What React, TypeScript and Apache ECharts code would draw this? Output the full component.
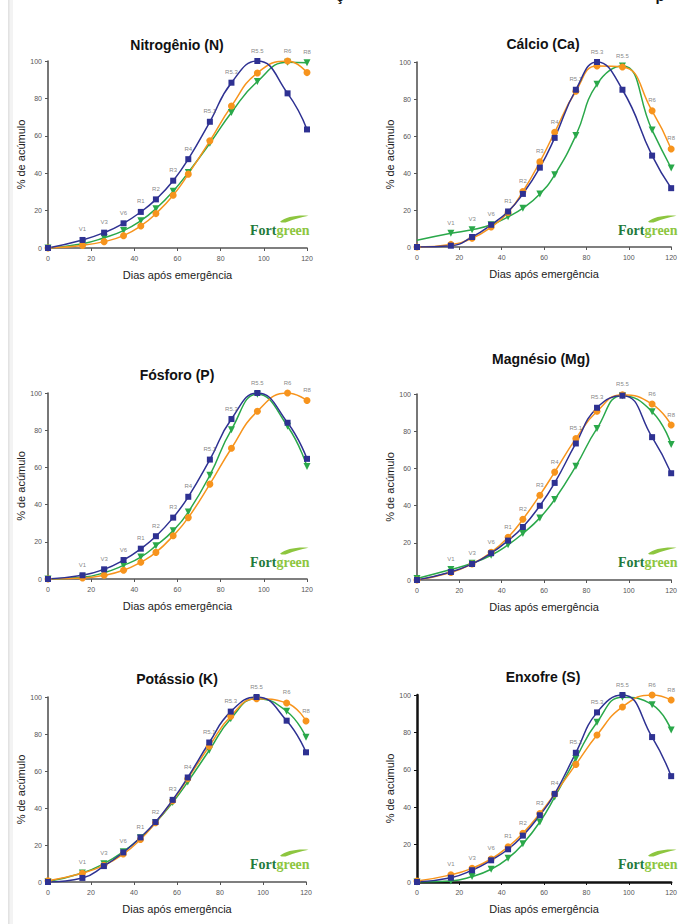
import React, { useEffect, useRef } from "react";
import * as echarts from "echarts";

// Days after emergence (x) and phenological stages
const DAYS = [0, 16, 26, 35, 43, 50, 58, 65, 75, 85, 97, 111, 120];
const STAGES = ["V1", "V3", "V6", "R1", "R2", "R3", "R4", "R5.1", "R5.3", "R5.5", "R6", "R8"];
const X_TICKS = [0, 20, 40, 60, 80, 100, 120];
const Y_TICKS = [0, 20, 40, 60, 80, 100];

// Nitrogênio
const N_BLUE = [0, 4.3, 8.2, 13.2, 19.3, 26, 36, 47.5, 67.5, 88.4, 100, 82.7, 63.4];
const N_ORANGE = [0, 1.4, 3.4, 6.6, 11.8, 18.4, 28.2, 39.5, 57.3, 75.9, 93.6, 100, 93.8];
const N_GREEN = [0, 2.3, 5.5, 9.3, 14.6, 21, 30.4, 40.4, 56, 72.5, 89, 99.3, 99.1];
// Cálcio
const CA_BLUE = [0, 0.7, 5.4, 12, 19.2, 28.7, 42.9, 59, 85, 100, 85, 49.4, 31.8];
const CA_ORANGE = [0, 1.4, 4.7, 10.8, 18.7, 30, 46, 62, 84.2, 97.8, 97.3, 73.6, 53];
const CA_GREEN = [3.6, 7.4, 9.3, 12, 16.3, 21, 28.7, 39, 60.3, 88, 97.8, 63.2, 42.7];
// Fósforo
const P_BLUE = [0, 2, 5.2, 10.2, 16.3, 23, 33, 44.2, 64.2, 86, 100, 84, 64.6];
const P_ORANGE = [0, 0.5, 2, 4.7, 9, 14.3, 23.3, 33, 51, 70.3, 90.2, 100, 96];
const P_GREEN = [0, 0.9, 3.4, 7.3, 11.8, 17.9, 26, 36, 55.8, 80.3, 99.3, 82.1, 60.5];
// Magnésio
const MG_BLUE = [0, 4.3, 8.6, 14.4, 21.2, 28.5, 39.9, 52.2, 73.4, 92.6, 99.1, 76.8, 57.4];
const MG_ORANGE = [0, 4, 8.6, 14.9, 23, 32.7, 45.6, 58, 76, 90.7, 99.6, 94.6, 83.3];
const MG_GREEN = [0.8, 5.6, 9, 13.3, 18.9, 25, 33.4, 43.3, 61.2, 81.5, 99.1, 90.5, 72.9];
// Potássio
const K_BLUE = [0, 2.2, 8.6, 16, 24.1, 32.4, 44.4, 56.5, 75.4, 92.1, 100, 87.2, 70.1];
const K_ORANGE = [0.7, 4.7, 9, 15.1, 23, 32, 43.9, 55.8, 73.4, 89.6, 99.1, 96.8, 87];
const K_GREEN = [0.3, 4.9, 9.9, 16.4, 23.9, 32, 43, 54.1, 71.2, 88.3, 99.1, 92.3, 78.2];
// Enxofre
const S_BLUE = [0, 2.3, 6.3, 11.6, 17.5, 24.8, 35.7, 47.1, 69.1, 90.7, 100, 77.5, 56.6];
const S_ORANGE = [0.5, 3.8, 7.3, 12.3, 18.8, 26.1, 36.6, 47.1, 62.9, 78.6, 93.6, 100, 97.3];
const S_GREEN = [0, 0.5, 2.9, 6.8, 12.7, 20.4, 32.1, 45.4, 66.1, 85.4, 98.8, 94.8, 81.3];

const TITLES = ["Nitrogênio (N)", "Cálcio (Ca)", "Fósforo (P)", "Magnésio (Mg)", "Potássio (K)", "Enxofre (S)"];
const PANEL_DATA = [
  { blue: N_BLUE, orange: N_ORANGE, green: N_GREEN },
  { blue: CA_BLUE, orange: CA_ORANGE, green: CA_GREEN, greenNoMarker0: true },
  { blue: P_BLUE, orange: P_ORANGE, green: P_GREEN },
  { blue: MG_BLUE, orange: MG_ORANGE, green: MG_GREEN },
  { blue: K_BLUE, orange: K_ORANGE, green: K_GREEN },
  { blue: S_BLUE, orange: S_ORANGE, green: S_GREEN, darkAxes: true },
];

const X_NAME = "Dias após emergência";
const Y_NAME = "% de acúmulo";

// layout (pixels)
const LAYOUT = [
  { left: 48, top: 61, width: 259, height: 187, titleX: 177, titleY: 45, logoX: 250, logoY: 230 },
  { left: 417, top: 62, width: 258, height: 185, titleX: 543, titleY: 44, logoX: 618, logoY: 230 },
  { left: 48, top: 393, width: 259, height: 186, titleX: 177, titleY: 375, logoX: 250, logoY: 562 },
  { left: 417, top: 394, width: 257, height: 186, titleX: 541, titleY: 359, logoX: 618, logoY: 562 },
  { left: 48, top: 697, width: 258, height: 185, titleX: 177, titleY: 679, logoX: 250, logoY: 864 },
  { left: 417, top: 695, width: 260, height: 187, titleX: 543, titleY: 677, logoX: 618, logoY: 864 },
];

const BLUE = "#2e3192";
const ORANGE = "#f7941d";
const GREEN = "#2aa84a";
const FONT = "'Liberation Sans', Arial, sans-serif";

echarts.graphic.registerShape(
  "fgleaf",
  echarts.graphic.extendPath("M0 9 C6 3 16 0 30 1 C22 3 14 6 8 9 C5 10.5 2 10.5 0 9 Z", {})
);

export default function App() {
  const ref = useRef<HTMLDivElement>(null);
  useEffect(() => {
    if (!ref.current) return;
    const chart = echarts.init(ref.current, null, { renderer: "svg" });

    const grid: any[] = [];
    const xAxis: any[] = [];
    const yAxis: any[] = [];
    const series: any[] = [];
    const graphic: any[] = [];

    // page edge shadow
    graphic.push({ type: "rect", shape: { x: 8, y: 0, width: 5, height: 924 }, style: { fill: "#f3f3f3" }, silent: true });
    graphic.push({ type: "rect", shape: { x: 8, y: 0, width: 1.5, height: 924 }, style: { fill: "#e2e2e2" }, silent: true });
    // cut-off page heading (only descenders visible in the reference)
    graphic.push({ type: "text", x: 340, y: 3, style: { text: "ç", font: `bold 15px ${FONT}`, fill: "#111", align: "center", verticalAlign: "bottom" } });
    graphic.push({ type: "text", x: 660, y: 3, style: { text: "p", font: `bold 15px ${FONT}`, fill: "#111", align: "center", verticalAlign: "bottom" } });

    PANEL_DATA.forEach((pd, i) => {
      const L = LAYOUT[i];
      const axisColor = pd.darkAxes ? "#111" : "#555";
      const axisWidth = pd.darkAxes ? 2.5 : 1.6;
      grid.push({ left: L.left, top: L.top, width: L.width, height: L.height, show: false });
      xAxis.push({
        type: "value", gridIndex: i, min: X_TICKS[0], max: X_TICKS[X_TICKS.length - 1], interval: 20,
        name: X_NAME, nameLocation: "middle", nameGap: 21,
        nameTextStyle: { fontSize: 11, color: "#222", fontFamily: FONT },
        axisLine: { lineStyle: { color: axisColor, width: axisWidth } },
        axisTick: { show: true, length: 3, lineStyle: { color: axisColor, width: 1 } },
        axisLabel: { fontSize: 7, color: "#555", margin: 7, fontFamily: FONT },
        splitLine: { show: false },
      });
      yAxis.push({
        type: "value", gridIndex: i, min: Y_TICKS[0], max: Y_TICKS[Y_TICKS.length - 1], interval: 20,
        name: Y_NAME, nameLocation: "middle", nameGap: 17, nameRotate: 90,
        nameTextStyle: { fontSize: 11, color: "#222", fontFamily: FONT },
        axisLine: { show: true, lineStyle: { color: axisColor, width: axisWidth } },
        axisTick: { show: true, length: 3, lineStyle: { color: axisColor, width: 1 } },
        axisLabel: { fontSize: 7, color: "#555", margin: 6, fontFamily: FONT },
        splitLine: { show: false },
      });

      const mk = (vals: number[], color: string, symbol: string, size: number, rotate: number, noMarker0?: boolean) => ({
        type: "line", xAxisIndex: i, yAxisIndex: i, smooth: 0.5,
        symbol, symbolSize: size, symbolRotate: rotate, showSymbol: true,
        lineStyle: { color, width: 1.5 }, itemStyle: { color },
        data: DAYS.map((d, k) => (noMarker0 && k === 0 ? { value: [d, vals[k]], symbol: "none" } : [d, vals[k]])),
        z: 3,
      });
      series.push(mk(pd.green, GREEN, "triangle", 7, 180, pd.greenNoMarker0));
      series.push(mk(pd.orange, ORANGE, "circle", 7, 0));
      series.push(mk(pd.blue, BLUE, "rect", 6, 0));

      series.push({
        type: "scatter", xAxisIndex: i, yAxisIndex: i, symbolSize: 1,
        itemStyle: { color: "rgba(0,0,0,0)" }, z: 5,
        label: { show: true, position: "top", distance: 7, formatter: "{b}", fontSize: 6, color: "#666", fontFamily: FONT },
        labelLayout: { hideOverlap: false },
        data: STAGES.map((st, k) => ({
          name: st,
          value: [DAYS[k + 1], Math.max(pd.blue[k + 1], pd.orange[k + 1], pd.green[k + 1])],
        })),
      });

      graphic.push({
        type: "text", x: L.titleX, y: L.titleY,
        style: { text: TITLES[i], font: `bold 14px ${FONT}`, fill: "#111", align: "center", verticalAlign: "middle" },
      });
      graphic.push({
        type: "fgleaf", x: L.logoX + 30, y: L.logoY - 15, scaleX: 0.95, scaleY: 0.75,
        style: { fill: "#8dc63f" },
      });
      graphic.push({
        type: "text", x: L.logoX, y: L.logoY,
        style: {
          text: "{a|Fort}{b|green}", verticalAlign: "middle", align: "left",
          rich: {
            a: { font: "bold 14px 'Liberation Serif', serif", fill: "#1f7a3c", color: "#1f7a3c" },
            b: { font: "bold 14px 'Liberation Serif', serif", fill: "#8dc63f", color: "#8dc63f" },
          },
        },
      });
    });

    chart.setOption({
      animation: false,
      backgroundColor: "#ffffff",
      grid, xAxis, yAxis, series, graphic,
    });
    return () => chart.dispose();
  }, []);
  return <div ref={ref} style={{ position: "fixed", left: 0, top: 0, width: 680, height: 924 }} />;
}
